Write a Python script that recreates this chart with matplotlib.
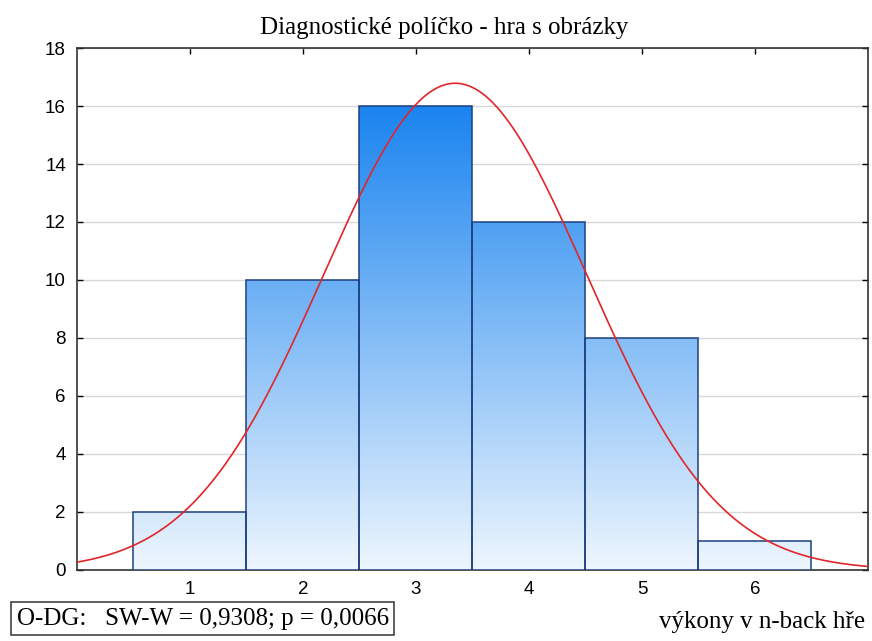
import numpy as np
import matplotlib
matplotlib.use("Agg")
import matplotlib.pyplot as plt
from matplotlib.colors import LinearSegmentedColormap
from matplotlib.patches import Rectangle

categories = [1, 2, 3, 4, 5, 6]
counts = [2, 10, 16, 12, 8, 1]
yticks = [0, 2, 4, 6, 8, 10, 12, 14, 16, 18]
title = "Diagnostické políčko - hra s obrázky"
xlabel = "výkony v n-back hře"
stat_text = "O-DG:   SW-W = 0,9308; p = 0,0066"

fig = plt.figure(figsize=(8.72, 6.41), dpi=100)
ax = fig.add_axes([0.0883, 0.1108, 0.9071, 0.8143])
ax.set_xlim(0, 7)
ax.set_ylim(0, 18)

cmap = LinearSegmentedColormap.from_list("g", ["#eef6fe", "#1a84ef"])
grad = np.linspace(0, 1, 256).reshape(-1, 1)
vmax = max(counts)
for x, c in zip(categories, counts):
    rect = Rectangle((x - 0.5, 0), 1, c, facecolor="none", edgecolor="#1e4080",
                     linewidth=1.1, zorder=4)
    ax.add_patch(rect)
    im = ax.imshow(grad, extent=[x - 0.5, x + 0.5, 0, vmax], origin="lower",
                   cmap=cmap, aspect="auto", zorder=3, interpolation="bilinear")
    im.set_clip_path(rect)

# fitted normal curve from histogram counts
vals = np.repeat(categories, counts)
n = len(vals)
mu = vals.mean()
sd = vals.std(ddof=1)
xs = np.linspace(0, 7, 400)
ys = n * np.exp(-0.5 * ((xs - mu) / sd) ** 2) / (sd * np.sqrt(2 * np.pi))
ax.plot(xs, ys, color="#e0262a", linewidth=1.2, zorder=5)

ax.set_xticks(categories)
ax.set_yticks(yticks)
ax.yaxis.grid(True, color="#d8d8d8", linewidth=1.0, zorder=0)
ax.set_axisbelow(True)
ax.tick_params(direction="in", top=True, right=True, length=4, width=1,
               labelsize=13.5, pad=8)
for lab in ax.get_xticklabels() + ax.get_yticklabels():
    lab.set_family("Liberation Sans")
for s in ax.spines.values():
    s.set_linewidth(1.2)
    s.set_color("#333333")

fig.text(0.509, 0.956, title, ha="center", va="center", fontsize=18,
         family="Liberation Serif")
fig.text(0.992, 0.030, xlabel, ha="right", va="center", fontsize=18,
         family="Liberation Serif")
fig.text(0.019, 0.035, stat_text, ha="left", va="center", fontsize=18,
         family="Liberation Serif",
         bbox=dict(boxstyle="square,pad=0.22", facecolor="white",
                   edgecolor="#333333", linewidth=1.1))

fig.savefig("out.png", dpi=100)
